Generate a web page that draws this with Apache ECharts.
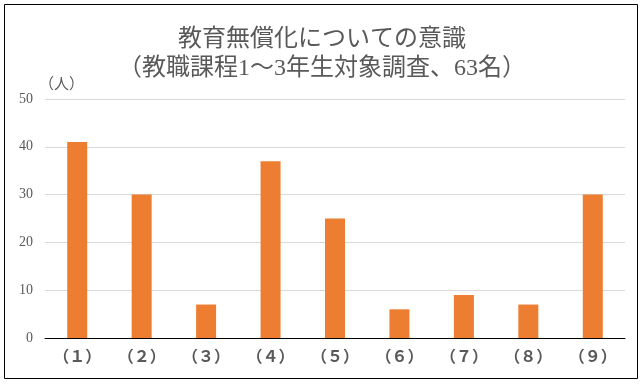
<!DOCTYPE html>
<html><head><meta charset="utf-8">
<script src="https://cdn.jsdelivr.net/npm/echarts@6/dist/echarts.min.js"></script>
<style>html,body{margin:0;padding:0;background:#fff}#c{width:644px;height:384px}</style>
</head><body><div id="c"></div>
<script>
const titleLines = ['教育無償化についての意識', '（教職課程1〜3年生対象調査、63名）'];
const categories = ['（１）','（２）','（３）','（４）','（５）','（６）','（７）','（８）','（９）'];
const values = [41, 30, 7, 37, 25, 6, 9, 7, 30];
const yUnit = '（人）';

const chart = echarts.init(document.getElementById('c'), null, {renderer:'canvas'});
chart.setOption({
  animation: false,
  backgroundColor: '#fff',
  title: {
    text: titleLines.join('\n'),
    left: 'center', top: 20,
    textStyle: {fontFamily: 'Liberation Serif, "Noto Sans CJK JP"', fontSize: 24, fontWeight: 'normal', color: '#595959', lineHeight: 29}
  },
  graphic: [{type:'rect', shape:{x:4.5, y:4.5, width:633, height:374}, style:{fill:'none', stroke:'#000', lineWidth:1}, silent:true}],
  grid: {left: 45, right: 19, top: 99, bottom: 46},
  xAxis: {
    type: 'category', data: categories,
    axisLine: {lineStyle: {color: '#000', width: 1}},
    axisTick: {show: false},
    axisLabel: {color: '#595959', fontSize: 16, fontWeight: 'bold', margin: 10, fontFamily: '"Noto Sans CJK JP"'}
  },
  yAxis: {
    type: 'value', min: 0, max: 50, interval: 10,
    name: yUnit, nameLocation: 'end', nameGap: 6,
    nameTextStyle: {color: '#595959', fontSize: 15, align: 'left', padding: [0,0,0,-6], fontFamily: 'Liberation Serif, "Noto Sans CJK JP"'},
    axisLine: {show: false}, axisTick: {show: false},
    axisLabel: {color: '#595959', fontSize: 14, margin: 12, fontFamily: 'Liberation Serif, "Noto Sans CJK JP"'},
    splitLine: {lineStyle: {color: '#d9d9d9', width: 1}}
  },
  series: [{type: 'bar', data: values, barWidth: 20, itemStyle: {color: '#ed7d31'}}]
});
</script></body></html>
